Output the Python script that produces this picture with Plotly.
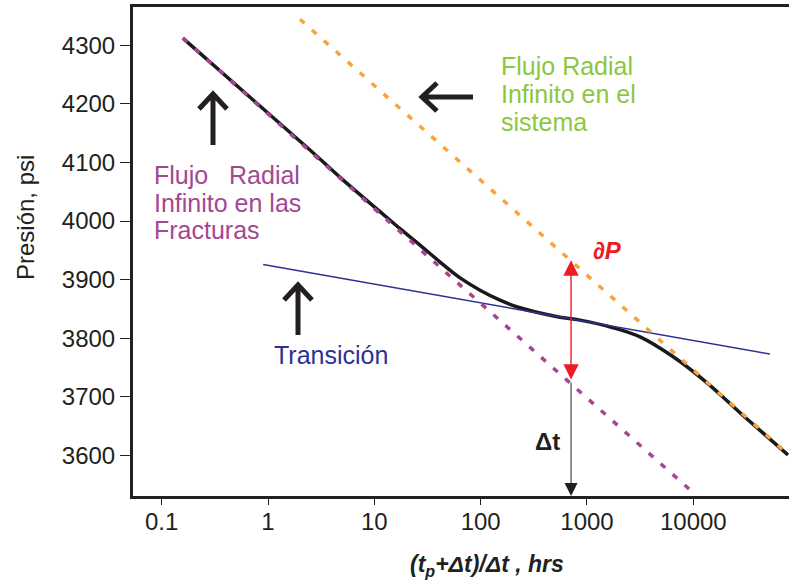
import math
import plotly.graph_objects as go

# ---------------- data ----------------
curve_x = [0.158, 2.48, 5.0, 11.3, 17.4, 26.9, 41.5, 64, 98.6, 152, 234, 361, 557, 860,
           1757, 3190, 6520, 13460, 27500, 77800]
curve_y = [4312, 4121, 4071, 4016, 3987, 3959, 3930, 3903, 3882, 3865, 3852, 3843, 3836, 3831,
           3818, 3802, 3768, 3724, 3673, 3601]

fract_x = [0.158, 9120]          # Flujo radial infinito en las fracturas
fract_y = [4312, 3543]

system_x = [2.0, 79000]          # Flujo radial infinito en el sistema
system_y = [4344, 3601]

trans_x = [0.9, 52600]           # Transición
trans_y = [3926, 3773]

dp_x = 708                        # position of the dP / dt arrows
dp_top = 3933
dp_bottom = 3727
y_floor = 3531

x_tickvals = [0.1, 1, 10, 100, 1000, 10000]
x_ticktext = ["0.1", "1", "10", "100", "1000", "10000"]
y_tickvals = [3600, 3700, 3800, 3900, 4000, 4100, 4200, 4300]

# ---------------- styling ----------------
FONT = "Liberation Sans, Arial, Helvetica, sans-serif"
DARK = "#231f20"
PURPLE = "#a4478f"
ORANGE = "#f8a43e"
BLUE = "#2e3192"
GREEN = "#8dc63f"
RED = "#ed1c24"

W, H = 789, 583
L, R, T, B = 133, 0, 7, 87
PW, PH = W - L - R, H - T - B


def px(x):
    return (x - L) / PW


def py(y):
    return (H - B - y) / PH


fig = go.Figure()
fig.add_trace(go.Scatter(x=curve_x, y=curve_y, mode="lines",
                         line=dict(color="#1a1a1a", width=3.5, shape="spline", smoothing=1.0),
                         hoverinfo="skip", showlegend=False))
fig.add_trace(go.Scatter(x=trans_x, y=trans_y, mode="lines",
                         line=dict(color=BLUE, width=1.5), showlegend=False))
fig.add_trace(go.Scatter(x=fract_x, y=fract_y, mode="lines",
                         line=dict(color=PURPLE, width=3.5, dash="6px,10px"), showlegend=False))
fig.add_trace(go.Scatter(x=system_x, y=system_y, mode="lines",
                         line=dict(color=ORANGE, width=3.5, dash="6px,10px"), showlegend=False))

annotations = []


def text(x, y, s, color, size=25, anchor="left", bold=False, italic=False):
    if bold:
        s = "<b>" + s + "</b>"
    if italic:
        s = "<i>" + s + "</i>"
    annotations.append(dict(x=px(x), y=py(y), xref="paper", yref="paper", text=s,
                            showarrow=False, xanchor=anchor, yanchor="middle",
                            font=dict(family=FONT, size=size, color=color)))


# purple text
text(152, 175, "Flujo\u00a0\u00a0\u00a0Radial", PURPLE)
text(152, 203, "Infinito en las", PURPLE)
text(152, 230, "Fracturas", PURPLE)
# green text
text(499, 66, "Flujo\u00a0Radial", GREEN)
text(499, 94, "Infinito en el", GREEN)
text(499, 122, "sistema", GREEN)
# blue text
text(331, 355, "Transición", BLUE, anchor="center")
# dP and dt
text(607, 250, "∂P", RED, size=24, anchor="center", bold=True, italic=True)
text(547, 441, "Δt", DARK, size=24, anchor="center", bold=True)

# axis titles
annotations.append(dict(x=px(25), y=py(218), xref="paper", yref="paper", text="Presión, psi",
                        showarrow=False, textangle=-90, xanchor="center", yanchor="middle",
                        font=dict(family=FONT, size=24, color=DARK)))
annotations.append(dict(x=px(487), y=py(565), xref="paper", yref="paper",
                        text="<b><i>(t<sub>p</sub>+Δt)/Δt , hrs</i></b>",
                        showarrow=False, xanchor="center", yanchor="middle",
                        font=dict(family=FONT, size=23, color=DARK)))

# red double arrow (dP)
lx = math.log10(dp_x)
annotations.append(dict(x=lx, y=dp_top, ax=lx, ay=dp_bottom, xref="x", yref="y",
                        axref="x", ayref="y", text="", showarrow=True,
                        arrowside="end+start", arrowhead=2, startarrowhead=2,
                        arrowsize=2.2, startarrowsize=2.2, arrowwidth=1.4, arrowcolor=RED))
# black arrow (dt)
annotations.append(dict(x=lx, y=y_floor, ax=lx, ay=dp_bottom, xref="x", yref="y",
                        axref="x", ayref="y", text="", showarrow=True,
                        arrowhead=2, arrowsize=2.6, arrowwidth=1, arrowcolor=DARK))

# thick chevron arrows
shapes = []


def chevron_arrow(tail, tip, wing1, wing2):
    path = "M {} {} L {} {} M {} {} L {} {} L {} {}".format(
        px(tail[0]), py(tail[1]), px(tip[0]), py(tip[1]),
        px(wing1[0]), py(wing1[1]), px(tip[0]), py(tip[1]), px(wing2[0]), py(wing2[1]))
    shapes.append(dict(type="path", xref="paper", yref="paper", path=path,
                       line=dict(color=DARK, width=5)))


chevron_arrow((213, 145), (213, 94), (199, 109), (227, 109))
chevron_arrow((473, 97), (422, 97), (437, 83), (437, 111))
chevron_arrow((298, 335), (298, 285), (284, 300), (312, 300))

fig.update_layout(
    width=W, height=H,
    margin=dict(l=L, r=R, t=T, b=B, pad=0),
    paper_bgcolor="white", plot_bgcolor="white",
    font=dict(family=FONT, color=DARK),
    annotations=annotations, shapes=shapes,
    xaxis=dict(type="log", range=[-1.27, 4.9], tickvals=x_tickvals, ticktext=x_ticktext,
               ticks="outside", ticklen=6, tickwidth=1, tickcolor=DARK, ticklabelstandoff=-4,
               showline=True, linewidth=3, linecolor=DARK, mirror=True,
               showgrid=False, zeroline=False, tickfont=dict(family=FONT, size=24, color=DARK)),
    yaxis=dict(range=[3531, 4365], tickvals=y_tickvals,
               ticks="outside", ticklen=10, tickwidth=1, tickcolor=DARK,
               showline=True, linewidth=3, linecolor=DARK,
               showgrid=False, zeroline=False, tickfont=dict(family=FONT, size=24, color=DARK)),
)

fig.write_html("out.html")
